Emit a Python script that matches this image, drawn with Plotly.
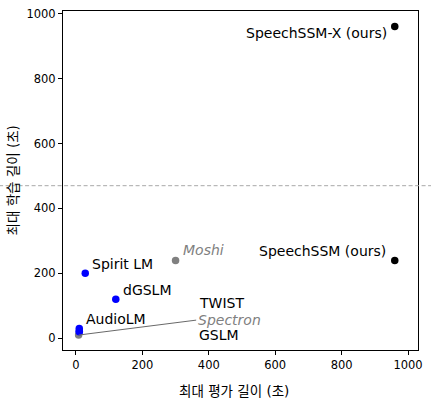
import plotly.graph_objects as go

# model data
models = ["SpeechSSM-X (ours)", "SpeechSSM (ours)", "Moshi", "Spirit LM", "dGSLM",
          "AudioLM", "TWIST", "GSLM", "Spectron"]
max_eval_len = [960, 960, 300, 28, 120, 10, 10, 10, 8]
max_train_len = [960, 240, 240, 200, 120, 30, 22, 20, 10]
group = ["ours", "ours", "italic", "base", "base", "base", "base", "base", "italic"]

threshold = 470

colors = {"ours": "black", "base": "blue", "italic": "gray"}

# label placement: (xanchor, xshift px, yshift px) next to the point
near_labels = {
    "SpeechSSM-X (ours)": ("right", -6, -6),
    "SpeechSSM (ours)": ("right", -7, 9),
    "Moshi": ("left", 5, 10),
    "Spirit LM": ("left", 5, 9),
    "dGSLM": ("left", 5, 9),
    "AudioLM": ("left", 5, 10),
}
# labels set apart in a stack (data coords)
stack_labels = {"TWIST": (365, 110), "Spectron": (362, 56), "GSLM": (365, 10)}

font = "DejaVu Sans, Noto Sans CJK KR"
label_size = 14

fig = go.Figure()
for g in ["italic", "base", "ours"]:
    idx = [i for i, v in enumerate(group) if v == g]
    fig.add_trace(go.Scatter(
        x=[max_eval_len[i] for i in idx],
        y=[max_train_len[i] for i in idx],
        mode="markers",
        marker=dict(size=7.5, color=colors[g]),
        showlegend=False,
    ))

for i, name in enumerate(models):
    italic = group[i] == "italic"
    txt = f"<i>{name}</i>" if italic else name
    fcolor = "gray" if italic else "black"
    if name in near_labels:
        xa, dx, dy = near_labels[name]
        fig.add_annotation(x=max_eval_len[i], y=max_train_len[i], text=txt,
                           showarrow=False, xanchor=xa, yanchor="middle",
                           xshift=dx, yshift=dy,
                           font=dict(size=label_size, color=fcolor, family=font))
    else:
        lx, ly = stack_labels[name]
        if name == "Spectron":
            fig.add_annotation(x=max_eval_len[i], y=max_train_len[i], text=txt,
                               showarrow=True, arrowhead=0, arrowwidth=1,
                               arrowcolor="dimgray", axref="x", ayref="y",
                               ax=lx, ay=ly, xanchor="left", yanchor="middle",
                               font=dict(size=label_size, color=fcolor, family=font))
        else:
            fig.add_annotation(x=lx, y=ly, text=txt, showarrow=False,
                               xanchor="left", yanchor="middle",
                               font=dict(size=label_size, color=fcolor, family=font))

# axis titles as annotations so the margins stay fixed
fig.add_annotation(x=0.5, y=0, xref="paper", yref="paper", text="최대 평가 길이 (초)",
                   showarrow=False, xanchor="center", yanchor="middle",
                   xshift=-7, yshift=-41,
                   font=dict(size=13.5, color="black", family=font))
fig.add_annotation(x=0, y=0.5, xref="paper", yref="paper", text="최대 학습 길이 (초)",
                   showarrow=False, textangle=-90, xanchor="center", yanchor="middle",
                   xshift=-51, font=dict(size=13.5, color="black", family=font))

# dashed reference line spanning the whole figure width
fig.add_shape(type="line", xref="paper", yref="y", x0=-0.18, x1=1.04,
              y0=threshold, y1=threshold,
              line=dict(color="#a8a8a8", width=1, dash="4px,2.5px"))

axis_common = dict(
    showgrid=False, zeroline=False, showline=True, linecolor="black",
    linewidth=1, mirror=True, ticks="outside", ticklen=4, tickcolor="black",
    tickfont=dict(size=11.5, color="black", family=font),
    tickvals=[0, 200, 400, 600, 800, 1000], automargin=False,
)
fig.update_xaxes(range=[-39, 1030], **axis_common)
fig.update_yaxes(range=[-36, 1008], **axis_common)

fig.update_layout(
    width=431, height=403,
    margin=dict(l=63, r=13, t=11, b=53),
    plot_bgcolor="white", paper_bgcolor="white",
    font=dict(family=font),
)

# pin the chart to the page's top-left corner
pin = ("document.body.style.margin='0';document.body.style.overflow='hidden';"
       "var d=document.querySelector('.plotly-graph-div');"
       "d.style.position='fixed';d.style.left='0';d.style.top='0';")

fig.write_html("out.html", config={"displayModeBar": False}, post_script=pin)
